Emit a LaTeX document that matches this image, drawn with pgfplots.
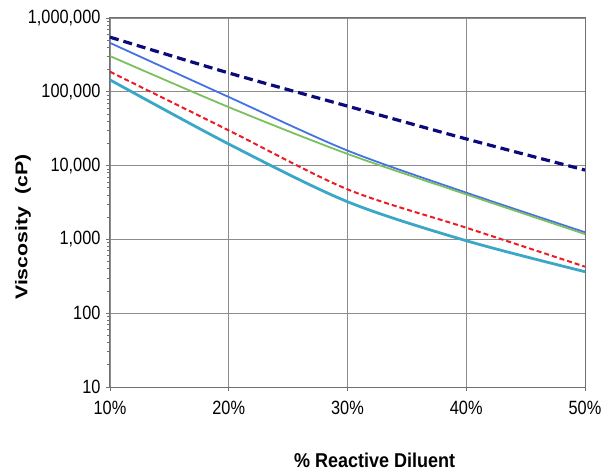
\documentclass[border=0pt]{standalone}
\usepackage{pgfplots}
\pgfplotsset{compat=1.18}
\usepackage{fontspec}
\setmainfont{Liberation Sans}
\newfontfamily\narrow{Liberation Sans}[FakeStretch=0.85]

\definecolor{navyline}{HTML}{0A0A7A}
\definecolor{blueline}{HTML}{4472E4}
\definecolor{greenline}{HTML}{7BBF5E}
\definecolor{redline}{HTML}{EC1C24}
\definecolor{tealline}{HTML}{3BA7C6}
\definecolor{gridgray}{HTML}{8C8C8C}

\begin{document}
\begin{tikzpicture}
\begin{axis}[
  scale only axis,
  width=475pt,height=369pt,
  ymode=log,
  xmin=10,xmax=50,ymin=10,ymax=1000000,
  xtick={10,20,30,40,50},
  xticklabels={10\%,20\%,30\%,40\%,50\%},
  ytick={10,100,1000,10000,100000,1000000},
  yticklabels={10,100,{1,000},{10,000},{100,000},{1,000,000}},
  /pgf/number format/assume math mode=true,
  ticklabel style={font=\narrow\fontsize{19.2}{20}\selectfont},
  xticklabel style={yshift=-7pt},
  yticklabel style={xshift=-2pt},
  grid=major,
  major grid style={draw=gridgray,line width=0.9pt},
  axis line style={draw=gridgray!80!black,line width=1pt},
  tick style={draw=gridgray!80!black,line width=0.7pt},
  major tick length=4pt,minor tick length=3pt,
  tick align=outside,
  xtick pos=bottom,ytick pos=left,
  xlabel={\scalebox{0.9}[1]{\bfseries\% Reactive Diluent}},
  xlabel style={font=\fontsize{20}{22}\selectfont,at={(axis description cs:0.557,-0.2)},anchor=center},
  ylabel={\scalebox{1.25}[1]{\bfseries Viscosity\hspace{0.6em}(cP)}},
  ylabel style={font=\fontsize{17}{22}\selectfont,at={(axis description cs:-0.183,0.434)},anchor=center,rotate=0},
]
\addplot[navyline,line width=3.2pt,dash pattern=on 9pt off 5pt,smooth] coordinates {
(10,550000) (20,180000) (30,64000) (40,23000) (50,8700)
};
\addplot[blueline,line width=1.8pt,smooth] coordinates {
(10,460000) (20,85000) (30,16000) (40,4300) (50,1250)
};
\addplot[greenline,line width=1.8pt,smooth] coordinates {
(10,305000) (20,62000) (30,14400) (40,4080) (50,1180)
};
\addplot[redline,line width=2pt,dash pattern=on 5pt off 3pt,smooth] coordinates {
(10,187000) (20,30000) (30,4770) (40,1440) (50,427)
};
\addplot[tealline,line width=2.8pt,smooth] coordinates {
(10,145000) (20,19600) (30,3240) (40,960) (50,365)
};
\end{axis}
\pgfresetboundingbox
\path[use as bounding box] (-110pt,-88pt) rectangle (500pt,387pt);
\end{tikzpicture}
\end{document}
